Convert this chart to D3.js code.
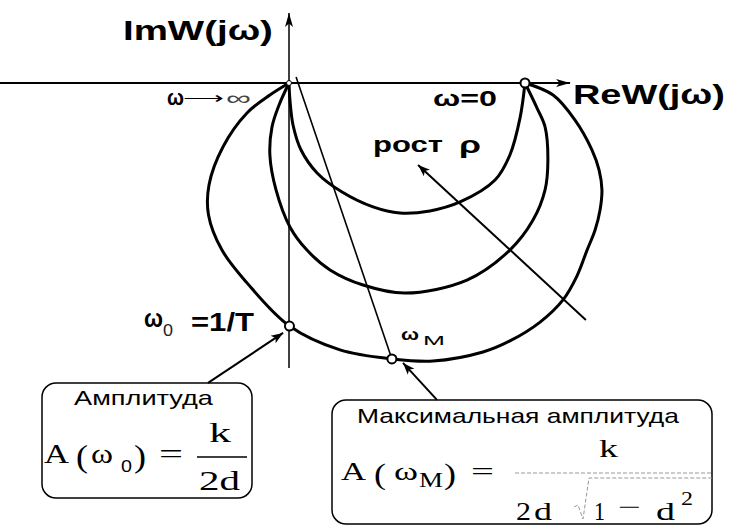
<!DOCTYPE html>
<html>
<head>
<meta charset="utf-8">
<script src="https://cdn.jsdelivr.net/npm/d3@7"></script>
<style>
  body { margin: 0; background: #fff; }
  svg { display: block; }
</style>
</head>
<body>
<svg id="chart" width="731" height="526"></svg>
<script>
// Nyquist hodographs of an oscillatory link, in units of the gain k: [Re, Im]
const curveOuter = [
  [1.000, 0.000], [1.119, -0.051], [1.212, -0.157], [1.284, -0.284], [1.314, -0.369],
  [1.326, -0.453], [1.318, -0.538], [1.297, -0.623], [1.263, -0.708], [1.220, -0.818],
  [1.161, -0.919], [1.064, -1.013], [0.936, -1.093], [0.822, -1.140], [0.610, -1.178],
  [0.436, -1.169], [0.216, -1.131], [0.002, -1.030], [-0.178, -0.847], [-0.284, -0.708],
  [-0.341, -0.559], [-0.339, -0.432], [-0.280, -0.271], [-0.178, -0.127], [-0.081, -0.051],
  [0.000, 0.000]
];
const curveMiddle = [
  [1.000, 0.000], [1.051, -0.106], [1.085, -0.186], [1.097, -0.326], [1.085, -0.453],
  [1.034, -0.581], [0.936, -0.708], [0.754, -0.835], [0.492, -0.890], [0.314, -0.856],
  [0.174, -0.792], [0.076, -0.708], [0.004, -0.610], [-0.055, -0.453], [-0.081, -0.305],
  [-0.072, -0.186], [-0.042, -0.093], [0.000, 0.000]
];
const curveInner = [
  [1.000, 0.000], [0.979, -0.148], [0.936, -0.305], [0.873, -0.411], [0.725, -0.504],
  [0.597, -0.542], [0.470, -0.551], [0.356, -0.525], [0.225, -0.462], [0.119, -0.381],
  [0.051, -0.284], [0.017, -0.178], [0.004, -0.072], [0.000, 0.000]
];

// Marked frequencies
const pointOmegaZero = [1.000, 0.000];     // ω = 0  → W = k
const pointOmegaInf  = [0.000, 0.000];     // ω → ∞ → W = 0
const pointOmega0    = [0.002, -1.030];    // ω0 = 1/T
const pointOmegaM    = [0.436, -1.169];    // resonance ωM

// Ray towards the resonance point
const rayToOmegaM = [[0.030, 0.025], pointOmegaM];

// Axis extents (Re from left edge to arrow, Im from arrow to bottom)
const reAxis = [-1.225, 1.191];
const imAxis = [0.297, -1.208];

// Pointer arrows: [from, to]
const arrowRho    = [[1.258, -1.004], [0.547, -0.347]];
const arrowOmega0 = [[-0.343, -1.271], [-0.025, -1.059]];
const arrowOmegaM = [[0.627, -1.343], [0.483, -1.186]];

const svg = d3.select("#chart");
const x = d3.scaleLinear().domain([0, 1]).range([289, 525]);
const y = d3.scaleLinear().domain([0, -1]).range([83, 319]);

const SANS = '"Liberation Sans", Arial, sans-serif';
const SERIF = '"Liberation Serif", "Times New Roman", serif';

// Arrowhead markers
const defs = svg.append("defs");
function arrowMarker(id, len, half) {
  defs.append("marker")
    .attr("id", id)
    .attr("markerUnits", "userSpaceOnUse")
    .attr("viewBox", `${-len - 1} ${-half - 1} ${len + 2} ${2 * half + 2}`)
    .attr("markerWidth", len + 2)
    .attr("markerHeight", 2 * half + 2)
    .attr("refX", 0).attr("refY", 0)
    .attr("orient", "auto")
    .append("path")
    .attr("d", `M0,0 L${-len},${-half} L${-len * 0.75},0 L${-len},${half} Z`)
    .attr("fill", "#000");
}
arrowMarker("axisHead", 14, 4);
arrowMarker("ptrHead", 12, 4.5);

// Axes
svg.append("line")
  .attr("x1", x(reAxis[0])).attr("y1", y(0))
  .attr("x2", x(reAxis[1])).attr("y2", y(0))
  .attr("stroke", "#000").attr("stroke-width", 2)
  .attr("marker-end", "url(#axisHead)");
svg.append("line")
  .attr("x1", x(0)).attr("y1", y(imAxis[1]))
  .attr("x2", x(0)).attr("y2", y(imAxis[0]))
  .attr("stroke", "#000").attr("stroke-width", 1.5)
  .attr("marker-end", "url(#axisHead)");

// Hodographs
const line = d3.line()
  .x(d => x(d[0])).y(d => y(d[1]))
  .curve(d3.curveCatmullRom.alpha(0.5));
[curveOuter, curveMiddle, curveInner].forEach(c => {
  svg.append("path")
    .attr("d", line(c))
    .attr("fill", "none")
    .attr("stroke", "#000")
    .attr("stroke-width", 3);
});

// Ray to ωM
svg.append("line")
  .attr("x1", x(rayToOmegaM[0][0])).attr("y1", y(rayToOmegaM[0][1]))
  .attr("x2", x(rayToOmegaM[1][0])).attr("y2", y(rayToOmegaM[1][1]))
  .attr("stroke", "#000").attr("stroke-width", 1.6);

// Pointer arrows
[arrowRho, arrowOmega0, arrowOmegaM].forEach(a => {
  svg.append("line")
    .attr("x1", x(a[0][0])).attr("y1", y(a[0][1]))
    .attr("x2", x(a[1][0])).attr("y2", y(a[1][1]))
    .attr("stroke", "#000").attr("stroke-width", 2)
    .attr("marker-end", "url(#ptrHead)");
});

// Marked points
svg.append("circle")
  .attr("cx", x(pointOmegaInf[0])).attr("cy", y(pointOmegaInf[1])).attr("r", 2.5)
  .attr("fill", "#fff").attr("stroke", "#000").attr("stroke-width", 1);
[pointOmegaZero, pointOmega0, pointOmegaM].forEach(p => {
  svg.append("circle")
    .attr("cx", x(p[0])).attr("cy", y(p[1])).attr("r", 4.5)
    .attr("fill", "#fff").attr("stroke", "#000").attr("stroke-width", 2);
});

// Text helper: optional w stretches the text horizontally to that width
function label(s, px, py, size, opt = {}) {
  const t = svg.append("text")
    .attr("x", 0).attr("y", 0)
    .attr("font-family", opt.family || SANS)
    .attr("font-size", size)
    .attr("font-weight", opt.bold ? "bold" : "normal")
    .attr("fill", opt.fill || "#000")
    .text(s);
  const nat = t.node().getComputedTextLength();
  const sx = opt.w && nat > 0 ? opt.w / nat : 1;
  t.attr("transform", `translate(${px},${py}) scale(${sx},1)`);
  return t;
}

// Axis titles
label("ImW(jω)", 123, 40, 28, { bold: true, w: 150 });
label("ReW(jω)", 573, 104, 28, { bold: true, w: 152 });

// Frequency labels
label("ω", 167, 105, 22, { bold: true, w: 17 });
label("⟶", 183, 103, 16, { w: 41 });
label("∞", 226, 105, 20, { w: 25, fill: "#444" });
label("ω=0", 433, 106, 22, { bold: true, w: 64 });
label("рост", 373, 152, 22, { bold: true, w: 70 });
label("ρ", 459, 153, 24, { bold: true, w: 22 });
label("ω", 144, 327, 25, { bold: true, w: 19 });
label("0", 163, 336, 16, { w: 10, fill: "#222" });
label("=1/T", 191, 331, 25, { bold: true, w: 63 });
label("ω", 401, 340, 17, { bold: true, w: 18 });
label("M", 423, 345, 13, { w: 22 });

// Left box: amplitude at ω0
svg.append("rect")
  .attr("x", 42).attr("y", 383).attr("width", 210).attr("height", 115).attr("rx", 14)
  .attr("fill", "none").attr("stroke", "#000").attr("stroke-width", 1.5);
label("Амплитуда", 74, 405, 20, { w: 139 });
label("A", 44, 463, 27, { family: SERIF, w: 25 });
label("(", 76, 467, 31, { family: SERIF, w: 12 });
label("ω", 91, 463, 28, { family: SERIF, w: 22 });
label("0", 121, 472, 17, { w: 11 });
label(")", 134, 467, 31, { family: SERIF, w: 12 });
label("=", 159, 463, 27, { family: SERIF, w: 24 });
label("k", 209, 442, 28, { family: SERIF, w: 22 });
svg.append("line").attr("x1", 197).attr("x2", 247).attr("y1", 457).attr("y2", 457)
  .attr("stroke", "#000").attr("stroke-width", 1.5);
label("2d", 199, 490, 27, { family: SERIF, w: 41 });

// Right box: maximum amplitude
svg.append("rect")
  .attr("x", 332).attr("y", 400).attr("width", 380).attr("height", 124).attr("rx", 14)
  .attr("fill", "none").attr("stroke", "#000").attr("stroke-width", 1.5);
label("Максимальная амплитуда", 357, 423, 20, { w: 322 });
label("A", 341, 480, 26, { family: SERIF, w: 25 });
label("(", 374, 484, 29, { family: SERIF, w: 12 });
label("ω", 394, 480, 26, { family: SERIF, w: 24 });
label("M", 419, 487, 20, { family: SERIF, w: 24 });
label(")", 444, 484, 29, { family: SERIF, w: 12 });
label("=", 471, 480, 26, { family: SERIF, w: 23 });
label("k", 599, 457, 25, { family: SERIF, w: 19 });
svg.append("line").attr("x1", 515).attr("x2", 712).attr("y1", 473).attr("y2", 473)
  .attr("stroke", "#999").attr("stroke-width", 1).attr("stroke-dasharray", "4,2");
svg.append("path").attr("d", "M574,507 L578,505 L583,519 L589,478 L712,478")
  .attr("fill", "none").attr("stroke", "#999").attr("stroke-width", 1).attr("stroke-dasharray", "4,2");
label("2", 516, 520, 25, { family: SERIF, w: 15 });
label("d", 534, 520, 25, { family: SERIF, w: 18 });
label("1", 594, 520, 25, { family: SERIF, w: 11 });
label("−", 618, 515, 24, { family: SERIF, w: 23 });
label("d", 656, 520, 25, { family: SERIF, w: 19 });
label("2", 681, 505, 18, { family: SERIF, w: 12 });
</script>
</body>
</html>
